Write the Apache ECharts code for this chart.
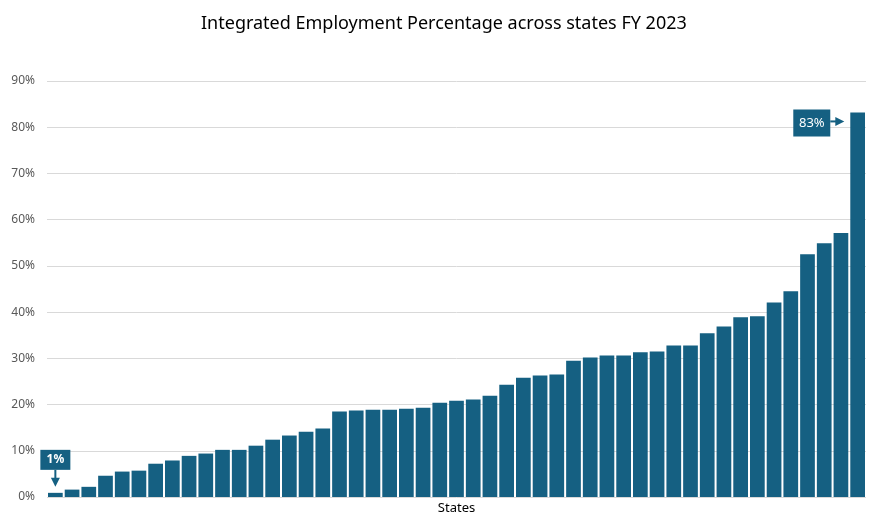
<!DOCTYPE html>
<html>
<head>
<meta charset="utf-8">
<script src="https://cdn.jsdelivr.net/npm/echarts@6/dist/echarts.min.js"></script>
<style>html,body{margin:0;padding:0;background:#fff}#c{width:876px;height:519px}</style>
</head>
<body>
<div id="c"></div>
<script>
const titleText = 'Integrated Employment Percentage across states FY 2023';
const categories = ['S1','S2','S3','S4','S5','S6','S7','S8','S9','S10','S11','S12','S13','S14','S15','S16','S17','S18','S19','S20','S21','S22','S23','S24','S25','S26','S27','S28','S29','S30','S31','S32','S33','S34','S35','S36','S37','S38','S39','S40','S41','S42','S43','S44','S45','S46','S47','S48','S49'];
const values = [0.9,1.6,2.2,4.6,5.5,5.7,7.2,7.9,8.9,9.4,10.2,10.2,11.1,12.4,13.3,14.1,14.8,18.5,18.7,18.9,18.9,19.1,19.3,20.4,20.8,21.1,21.9,24.3,25.8,26.3,26.5,29.5,30.2,30.6,30.6,31.3,31.5,32.8,32.8,35.4,36.9,38.9,39.1,42.1,44.5,52.5,54.9,57.1,83.2];
const yTicks = [0,10,20,30,40,50,60,70,80,90];
const annotations = [{index:0, text:'1%'}, {index:48, text:'83%'}];

const color = '#156082';
const chart = echarts.init(document.getElementById('c'));
chart.setOption({
  animation:false,
  title:{text:titleText,left:196,top:10,textStyle:{fontFamily:'Noto Sans',fontSize:18,fontWeight:'normal',color:'#000'}},
  grid:{left:47,right:10,top:81,bottom:22,outerBoundsMode:'none',containLabel:false},
  xAxis:{type:'category',data:categories,name:'States',nameLocation:'middle',nameGap:5,
    nameTextStyle:{fontFamily:'Noto Sans',fontSize:13,color:'#000'},
    axisLine:{show:false},axisTick:{show:false},axisLabel:{show:false}},
  yAxis:{type:'value',min:yTicks[0],max:yTicks[yTicks.length-1],interval:10,
    axisLine:{show:false},axisTick:{show:false},
    axisLabel:{formatter:'{value}%',color:'#595959',fontSize:12,fontFamily:'Noto Sans',margin:12},
    splitLine:{lineStyle:{color:'#d9d9d9',width:1}}},
  series:[{type:'bar',data:values,barCategoryGap:'12%',itemStyle:{color:color}}]
});

function drawAnnotations(){
  const g = [];
  const a0 = annotations[0];
  const p0 = chart.convertToPixel({seriesIndex:0},[a0.index,values[a0.index]]);
  const bx = p0[0], tipY = p0[1]-6;
  g.push({type:'rect',shape:{x:bx-15,y:tipY-37,width:30,height:20},style:{fill:color}});
  g.push({type:'text',style:{text:a0.text,x:bx,y:tipY-27,align:'center',verticalAlign:'middle',fill:'#fff',font:'bold 12px "Noto Sans"'}});
  g.push({type:'line',shape:{x1:bx,y1:tipY-17,x2:bx,y2:tipY-8},style:{stroke:color,lineWidth:2}});
  g.push({type:'polygon',shape:{points:[[bx-4.5,tipY-9],[bx+4.5,tipY-9],[bx,tipY]]},style:{fill:color}});

  const a1 = annotations[1];
  const p1 = chart.convertToPixel({seriesIndex:0},[a1.index,values[a1.index]]);
  const bw = chart.getModel().getComponent('xAxis',0).axis.getBandWidth();
  const leftEdge = p1[0]-bw*0.44;
  const ay = p1[1]+9;
  const tip = leftEdge-6;
  g.push({type:'rect',shape:{x:tip-51,y:ay-12,width:37,height:27},style:{fill:color}});
  g.push({type:'text',style:{text:a1.text,x:tip-32.5,y:ay+1.5,align:'center',verticalAlign:'middle',fill:'#fff',font:'13px "Noto Sans"'}});
  g.push({type:'line',shape:{x1:tip-14,y1:ay,x2:tip-8,y2:ay},style:{stroke:color,lineWidth:2}});
  g.push({type:'polygon',shape:{points:[[tip-9,ay-4.5],[tip-9,ay+4.5],[tip,ay]]},style:{fill:color}});
  chart.setOption({graphic:g});
}
drawAnnotations();
</script>
</body>
</html>
